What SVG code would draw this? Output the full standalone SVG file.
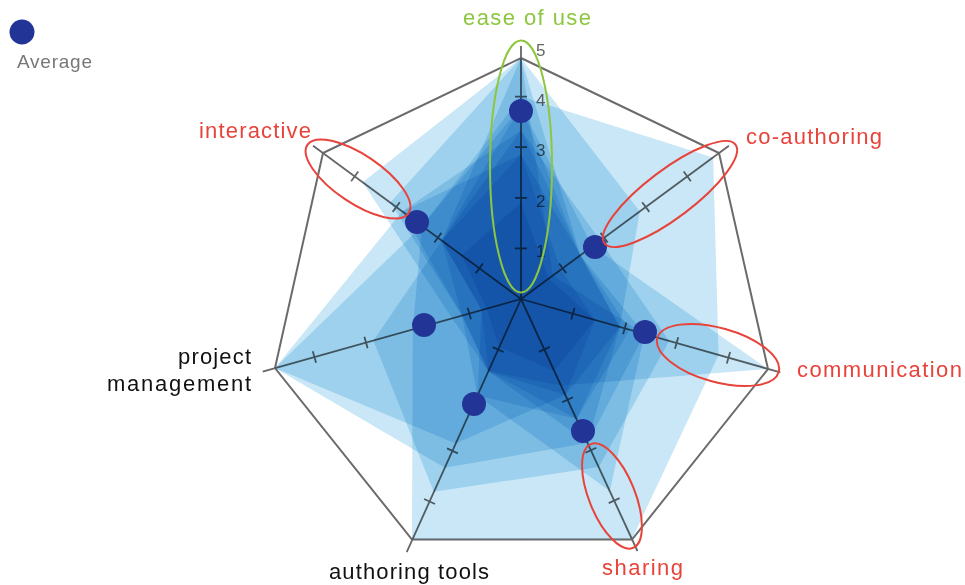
<svg xmlns="http://www.w3.org/2000/svg" width="965" height="585" viewBox="0 0 965 585">
  <style>
    .rim{fill:none;stroke:#6b6b6b;stroke-width:2;stroke-linejoin:miter}
    .axis line,.axis path{stroke:#666;stroke-width:1.8;fill:none}
    .scale{font-family:"Liberation Sans",Arial,sans-serif;font-size:17px;fill:#666}
    .resp polygon{fill:#c9e7f6;mix-blend-mode:multiply}
    .avg circle{fill:#233497}
    .ring{fill:none;stroke-width:2}
    .red{stroke:#e8433a}
    .green{stroke:#8dc63f}
    .lbl{font-family:"Liberation Sans",Arial,sans-serif;font-size:22px}
    .lbl-red{fill:#e8433a}
    .lbl-green{fill:#8dc63f}
    .lbl-dark{fill:#111}
  </style>

  <rect width="965" height="585" fill="#fff"/>

  <!-- outer heptagon (value 5) -->
  <polygon id="frame" class="rim" points="521,58 719,153 768,369 632,539.5 412,539.5 275,368 323,153"/>

  <!-- axes with ticks at 1..4 -->
  <g id="connectors" class="axis">
    <g id="axis-ease" transform="translate(521 299) rotate(-90)"><line x1="0" y1="0" x2="253" y2="0"/><path d="M50.6,-6v12M101.2,-6v12M151.8,-6v12M202.4,-6v12"/></g>
    <g id="axis-coauthoring" transform="translate(521 299) rotate(-36.4)"><line x1="0" y1="0" x2="258.3" y2="0"/><path d="M51.7,-6v12M103.3,-6v12M155,-6v12M206.6,-6v12"/></g>
    <g id="axis-communication" transform="translate(521 299) rotate(15.8)"><line x1="0" y1="0" x2="269.5" y2="0"/><path d="M53.9,-6v12M107.8,-6v12M161.7,-6v12M215.6,-6v12"/></g>
    <g id="axis-sharing" transform="translate(521 299) rotate(65.2)"><line x1="0" y1="0" x2="277.6" y2="0"/><path d="M55.5,-6v12M111,-6v12M166.6,-6v12M222.1,-6v12"/></g>
    <g id="axis-authoring" transform="translate(521 299) rotate(114.3)"><line x1="0" y1="0" x2="277.7" y2="0"/><path d="M55.5,-6v12M111.1,-6v12M166.6,-6v12M222.2,-6v12"/></g>
    <g id="axis-project" transform="translate(521 299) rotate(164.3)"><line x1="0" y1="0" x2="268.3" y2="0"/><path d="M53.7,-6v12M107.3,-6v12M161,-6v12M214.6,-6v12"/></g>
    <g id="axis-interactive" transform="translate(521 299) rotate(216.4)"><line x1="0" y1="0" x2="258.3" y2="0"/><path d="M51.7,-6v12M103.3,-6v12M155,-6v12M206.6,-6v12"/></g>
  </g>

  <!-- scale numbers on the ease-of-use axis -->
  <g id="scale" class="scale">
    <text x="536" y="257">1</text>
    <text x="536" y="207">2</text>
    <text x="536" y="156">3</text>
    <text x="536" y="106">4</text>
    <text x="536" y="56">5</text>
  </g>

  <!-- one polygon per respondent, multiplied together -->
  <g id="responses" class="resp">
    <polygon points="521,96.6 713.1,157.4 718.6,355 632,539 412,539.5 412.8,329.4 422,226"/>
    <polygon points="521,106.2 592.3,246.4 768,369 561,385.4 488.3,371.3 462,315.6 441.8,240.6"/>
    <polygon points="521,58 580.4,255.2 619.8,327 565.4,395 488.3,371.3 452.1,318.3 362.6,182.2"/>
    <polygon points="521,154.4 560.6,269.8 595.1,320 565.4,395 455.6,443.6 275,368 402.2,211.4"/>
    <polygon points="521,106.2 580.4,255.2 619.8,327 587.6,443 444.7,467.7 275,368 422,226"/>
    <polygon points="521,58 552.7,275.6 644.5,334 609.8,491 477.4,395.4 481.6,310 441.8,240.6"/>
    <polygon points="521,130.3 580.4,255.2 644.5,334 587.6,443 488.3,371.3 462,315.6 402.2,211.4"/>
    <polygon points="521,58 639.8,211.4 619.8,327 576.5,419 477.4,395.4 462,315.6 390.3,202.6"/>
    <polygon points="521,154.4 580.4,255.2 629.7,329.8 576.5,419 488.3,371.3 481.6,310 441.8,240.6"/>
    <polygon points="521,202.6 548.7,278.6 595.1,320 554.3,371 499.2,347.2 486.6,308.7 461.6,255.2"/>
    <polygon points="521,130.3 600.2,240.6 669.2,341 598.7,467 433.8,491.8 373.4,340.4 441.8,240.6"/>
  </g>

  <!-- average values -->
  <g id="average" class="avg">
    <circle cx="521" cy="111" r="12"/>
    <circle cx="595" cy="247" r="12"/>
    <circle cx="645" cy="332" r="12"/>
    <circle cx="583" cy="431" r="12"/>
    <circle cx="474" cy="404" r="12"/>
    <circle cx="424" cy="325" r="12"/>
    <circle cx="417" cy="222" r="12"/>
  </g>

  <!-- highlight rings -->
  <g id="highlights">
    <ellipse class="ring green" cx="521" cy="166.5" rx="31" ry="126"/>
    <ellipse class="ring red" cx="0" cy="0" rx="82" ry="24" transform="translate(670 194) rotate(-37)"/>
    <ellipse class="ring red" cx="0" cy="0" rx="63" ry="27" transform="translate(718 355) rotate(15.6)"/>
    <ellipse class="ring red" cx="0" cy="0" rx="56" ry="23" transform="translate(612 496) rotate(68)"/>
    <ellipse class="ring red" cx="0" cy="0" rx="61" ry="24" transform="translate(358 179) rotate(34)"/>
  </g>

  <!-- axis labels -->
  <g id="label-ease" class="lbl lbl-green"><text x="463" y="25" textLength="128" lengthAdjust="spacing">ease of use</text></g>
  <g id="label-coauthoring" class="lbl lbl-red"><text x="746" y="144" textLength="136" lengthAdjust="spacing">co-authoring</text></g>
  <g id="label-communication" class="lbl lbl-red"><text x="797" y="377" textLength="165" lengthAdjust="spacing">communication</text></g>
  <g id="label-sharing" class="lbl lbl-red"><text x="602" y="575" textLength="81" lengthAdjust="spacing">sharing</text></g>
  <g id="label-authoring" class="lbl lbl-dark"><text x="329" y="579" textLength="160" lengthAdjust="spacing">authoring tools</text></g>
  <g id="label-project" class="lbl lbl-dark">
    <text x="178" y="364" textLength="73" lengthAdjust="spacing">project</text>
    <text x="107" y="391" textLength="144" lengthAdjust="spacing">management</text>
  </g>
  <g id="label-interactive" class="lbl lbl-red"><text x="199" y="138" textLength="112" lengthAdjust="spacing">interactive</text></g>

  <!-- legend -->
  <g id="legend">
    <circle cx="22" cy="32" r="12.5" fill="#233497"/>
    <text x="17" y="68" textLength="75" lengthAdjust="spacing" style="font-family:'Liberation Sans',Arial,sans-serif;font-size:19px;fill:#777">Average</text>
  </g>
</svg>
